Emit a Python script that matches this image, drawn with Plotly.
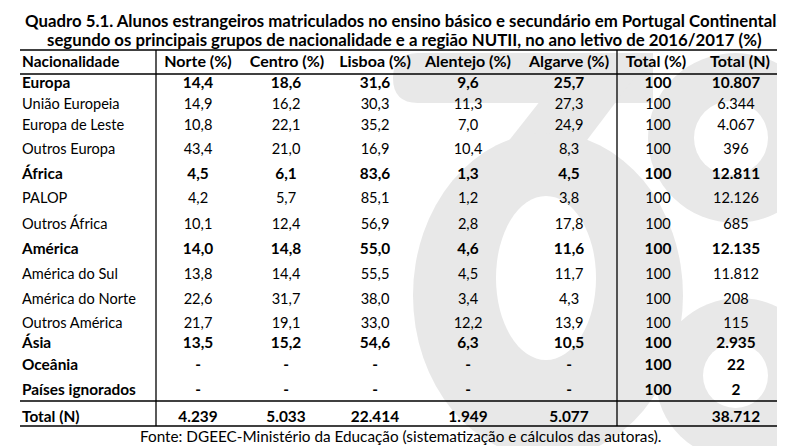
import plotly.graph_objects as go

# ---------------- data ----------------
nationalities = ["Europa", "União Europeia", "Europa de Leste", "Outros Europa",
                 "África", "PALOP", "Outros África",
                 "América", "América do Sul", "América do Norte", "Outros América",
                 "Ásia", "Oceânia", "Países ignorados"]
is_group = [True, False, False, False, True, False, False,
            True, False, False, False, True, True, True]
norte = [14.4, 14.9, 10.8, 43.4, 4.5, 4.2, 10.1, 14.0, 13.8, 22.6, 21.7, 13.5, None, None]
centro = [18.6, 16.2, 22.1, 21.0, 6.1, 5.7, 12.4, 14.8, 14.4, 31.7, 19.1, 15.2, None, None]
lisboa = [31.6, 30.3, 35.2, 16.9, 83.6, 85.1, 56.9, 55.0, 55.5, 38.0, 33.0, 54.6, None, None]
alentejo = [9.6, 11.3, 7.0, 10.4, 1.3, 1.2, 2.8, 4.6, 4.5, 3.4, 12.2, 6.3, None, None]
algarve = [25.7, 27.3, 24.9, 8.3, 4.5, 3.8, 17.8, 11.6, 11.7, 4.3, 13.9, 10.5, None, None]
total_pct = [100] * 14
total_n = [10807, 6344, 4067, 396, 12811, 12126, 685, 12135, 11812, 208, 115, 2935, 22, 2]
total_row_label = "Total (N)"
total_row = [4239, 5033, 22414, 1949, 5077, None, 38712]
headers = ["Nacionalidade", "Norte (%)", "Centro (%)", "Lisboa (%)", "Alentejo (%)",
           "Algarve (%)", "Total (%)", "Total (N)"]
title_lines = ["Quadro 5.1. Alunos estrangeiros matriculados no ensino básico e secundário em Portugal Continental,",
               "segundo os principais grupos de nacionalidade e a região NUTII, no ano letivo de 2016/2017 (%)"]
source = "Fonte: DGEEC-Ministério da Educação (sistematização e cálculos das autoras)."

# ---------------- layout helpers ----------------
W, H = 785, 446
FONT = "Lato, 'Open Sans', sans-serif"
FS_REG = 14.6
FS_BOLD = 15.4
FS_HEAD = 16.0
TFS = 16.8
col_x = [14, 190, 278, 367, 460, 561, 650, 728]
head_x = [14, 190, 279, 367, 460, 561, 648, 732]
head_y = 55
row_y = [76, 97.5, 118, 142, 167, 191.5, 217, 242, 267, 292, 316.5, 336.5, 358, 383]
total_y = 410
INK = "#000000"


def fmt_dec(v):
    return "-" if v is None else f"{v:.1f}".replace(".", ",")


def fmt_int(v):
    return "" if v is None else f"{v:,}".replace(",", ".")


def b(s, bold):
    return f"<b>{s}</b>" if bold else s


def sizes(flags):
    return [FS_BOLD if f else FS_REG for f in flags]


fig = go.Figure()

# watermark (faint logo behind the table)
wm = "#e8e8e8"
shapes = []


def wshape(kind, fill, **kw):
    shapes.append(dict(type=kind, layer="below", line=dict(width=0), fillcolor=fill, **kw))


wshape("path", wm, path="M 410,45 L 645,45 L 645,95 L 410,95 Q 385,95 385,70 Q 385,45 410,45 Z")
wshape("path", wm, path="M 570,45 L 645,45 L 520,210 L 440,210 Z")
wshape("circle", wm, x0=405, y0=125, x1=675, y1=450)
wshape("circle", "white", x0=488, y0=188, x1=588, y1=352)
wshape("circle", wm, x0=640, y0=45, x1=815, y1=215)
wshape("circle", "white", x0=686, y0=93, x1=760, y1=167)
wshape("circle", wm, x0=648, y0=290, x1=815, y1=452)
wshape("circle", "white", x0=695, y0=335, x1=760, y1=400)

# table rules
lw = 1.3
for y in [42, 66, 393, 418]:
    shapes.append(dict(type="line", x0=12, x1=777, y0=y, y1=y, line=dict(color="black", width=lw)))
for x in [148, 609]:
    shapes.append(dict(type="line", x0=x, x1=x, y0=42, y1=418, line=dict(color="black", width=lw)))

# header
fig.add_trace(go.Scatter(x=[head_x[0]], y=[head_y], mode="text", text=[b(headers[0], True)],
                         textposition="middle right", hoverinfo="skip",
                         textfont=dict(family=FONT, size=FS_BOLD, color=INK)))
fig.add_trace(go.Scatter(x=head_x[1:], y=[head_y] * 7, mode="text",
                         text=[b(h, True) for h in headers[1:]],
                         textposition="middle center", hoverinfo="skip",
                         textfont=dict(family=FONT, size=FS_HEAD, color=INK)))

# first column
flags = is_group + [True]
fig.add_trace(go.Scatter(x=[col_x[0]] * len(flags), y=row_y + [total_y], mode="text",
                         text=[b(n, g) for n, g in zip(nationalities + [total_row_label], flags)],
                         textposition="middle right", hoverinfo="skip",
                         textfont=dict(family=FONT, size=sizes(flags), color=INK)))

# value columns
cols = [(norte, fmt_dec), (centro, fmt_dec), (lisboa, fmt_dec), (alentejo, fmt_dec),
        (algarve, fmt_dec), (total_pct, lambda v: str(v)), (total_n, fmt_int)]
for ci, (vals, f) in enumerate(cols):
    xs = [col_x[ci + 1]] * (len(vals) + 1)
    texts = [b(f(v), g) for v, g in zip(vals, is_group)] + [b(fmt_int(total_row[ci]), True)]
    fig.add_trace(go.Scatter(x=xs, y=row_y + [total_y], mode="text", text=texts,
                             textposition="middle center", hoverinfo="skip",
                             textfont=dict(family=FONT, size=sizes(flags), color=INK)))

annotations = [
    dict(x=394, y=12, xref="x", yref="y", text=f"<b>{title_lines[0]}</b>", showarrow=False,
         font=dict(family=FONT, size=TFS, color=INK), xanchor="center", yanchor="middle"),
    dict(x=396, y=31.5, xref="x", yref="y", text=f"<b>{title_lines[1]}</b>", showarrow=False,
         font=dict(family=FONT, size=TFS, color=INK), xanchor="center", yanchor="middle"),
    dict(x=392, y=428, xref="x", yref="y", text=source, showarrow=False,
         font=dict(family=FONT, size=15.3, color=INK), xanchor="center", yanchor="middle"),
]

fig.update_layout(
    width=W, height=H, margin=dict(l=0, r=0, t=0, b=0),
    paper_bgcolor="white", plot_bgcolor="white", showlegend=False,
    xaxis=dict(range=[0, W], visible=False, fixedrange=True),
    yaxis=dict(range=[H, 0], visible=False, fixedrange=True),
    shapes=shapes, annotations=annotations,
)
fig.write_html("out.html")
